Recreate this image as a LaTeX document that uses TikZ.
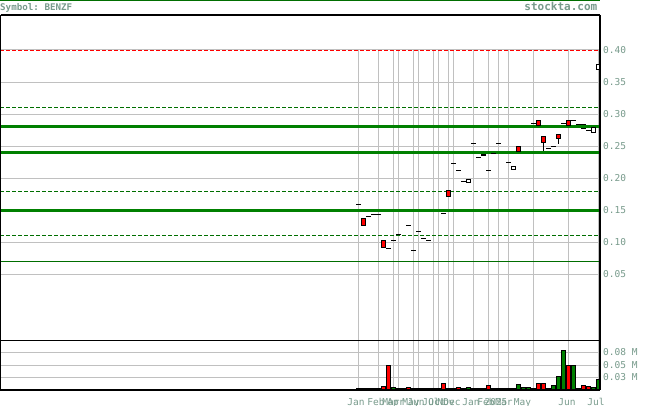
\documentclass[tikz,border=0pt]{standalone}
\usepackage{fontspec}
\setmonofont{DejaVu Sans Mono}
\definecolor{gridgray}{RGB}{192,192,192}
\definecolor{txtgreen}{RGB}{120,155,140}
\definecolor{supgreen}{RGB}{0,128,0}
\definecolor{dkgreen}{RGB}{0,110,0}
\definecolor{candred}{RGB}{255,0,0}
\definecolor{volgreen}{RGB}{0,128,0}
\tikzset{
  gridline/.style={draw=gridgray,line width=1pt},
  supthick/.style={draw=supgreen,line width=3pt},
  supdash/.style={draw=dkgreen,line width=1pt,dash pattern=on 3.5pt off 2.5pt},
  supthin/.style={draw=dkgreen,line width=1pt},
  topdash/.style={draw=candred,line width=1pt,dash pattern=on 4pt off 2pt},
  tick/.style={draw=black,line width=1pt},
  redbody/.style={draw=black,line width=1pt,fill=candred},
  whitebody/.style={draw=black,line width=1pt,fill=white},
  axlabel/.style={text=txtgreen,font=\ttfamily\fontsize{9.5}{10}\selectfont,inner sep=0pt},
  monthlabel/.style={text=txtgreen,font=\ttfamily\fontsize{9.5}{10}\selectfont,inner sep=0pt,anchor=base},
  headlabel/.style={text=txtgreen,inner sep=0pt}
}
\begin{document}
\begin{tikzpicture}[x=1pt,y=-1pt]
\useasboundingbox (0,0) rectangle (655,406);
\fill[white] (0,0) rectangle (655,406);
% top green rule
\draw[draw=dkgreen,line width=1.5pt] (0,0.75) -- (600,0.75);
% horizontal grid
\foreach \yy in {50,82.3,114.3,146.3,178.3,210.3,242.3,274.3,352.3,365,377.3}
  \draw[gridline] (0,\yy) -- (600,\yy);
% vertical grid
\foreach \k in {0,4,7,8,11,12,15,16,18,19,23,26,28,30,35,42,48}
  \draw[gridline] ({358.5+5*\k},50) -- ({358.5+5*\k},390);
% support / resistance lines
\draw[topdash] (0,50.3) -- (600,50.3);
\foreach \yy in {107.3,191.3,235.3}
  \draw[supdash] (0,\yy) -- (600,\yy);
\foreach \yy in {126.3,152.7,210.3}
  \draw[supthick] (0,\yy) -- (600,\yy);
\draw[supthin] (0,261) -- (600,261);
% candles: ticks (open = close)
\foreach \i/\yy in {0/204.3,2/216.3,3/214.3,4/214.3,6/248.3,7/240.3,8/234,10/225,11/250.3,12/231.3,13/238.3,14/240.3,17/213.3,19/164,20/171,21/181,23/144,24/157.3,26/171,27/154,28/144,30/162.3,35/123.3,38/148.3,39/146.3,41/123.3,43/121,44/124.3,45/124.3,45/128.3,46/130.3}
  \draw[tick] ({356+5*\i+0.2},\yy) -- ({356+5*\i+4.8},\yy);
% wicks
\draw[tick] ({356+5*37+2.5},143) -- ({356+5*37+2.5},150.7);
\draw[tick] ({356+5*40+2.5},139) -- ({356+5*40+2.5},144.3);
% red bodies
\foreach \i/\ta/\tb in {1/218/226,5/240/247.7,18/190.3/196.7,25/154/156.5,32/146.3/151.7,36/120/125.7,37/136/143.3,40/134/139.3,42/120/125.7}
  \draw[redbody] ({356+5*\i+0.5},{\ta+0.5}) rectangle ({356+5*\i+4.5},{\tb-0.5});
% white bodies
\foreach \i/\ta/\tb in {22/179.3/182.7,31/166.3/169.7,47/127.3/132.7,48/64.3/70.3}
  \draw[whitebody] ({356+5*\i+0.5},{\ta+0.5}) rectangle ({356+5*\i+4.5},{\tb-0.5});
% volume baseline
\draw[draw=black,line width=1.5pt] (356,389) -- (600,389);
% volume bars
\foreach \i/\tp/\cc in {0/388.3/volgreen,1/388.3/candred,5/386.3/candred,6/365/candred,7/387.3/volgreen,10/387.3/candred,17/383.3/candred,20/387.3/candred,22/387.3/volgreen,26/385.3/candred,29/388.3/candred,31/388.3/candred,32/384.3/volgreen,33/387.3/volgreen,34/387.3/volgreen,36/383.3/candred,37/383.3/candred,39/385.3/volgreen,40/376.3/volgreen,41/350/volgreen,42/365.3/candred,43/365.3/volgreen,44/388.3/candred,45/385.3/candred,46/386.3/candred,47/387.3/volgreen,48/379/volgreen}
  \draw[draw=black,line width=1pt,fill=\cc] ({356+5*\i+0.5},{\tp+0.5}) rectangle ({356+5*\i+4.5},389.5);
% frame
\draw[draw=black,line width=1.2pt] (0.6,15) -- (600,15);
\draw[draw=black,line width=1.2pt] (0.6,15) -- (0.6,390) -- (600,390);
\draw[draw=black,line width=1.2pt] (0.6,340.3) -- (600,340.3);
\draw[draw=black,line width=1.6pt] (600,15) -- (600,390);
% header
\node[headlabel,anchor=base west,font=\ttfamily\bfseries\fontsize{9.2}{10}\selectfont] (sym) at (0,10.3) {Symbol: BENZF};
\node[headlabel,anchor=base east,font=\ttfamily\bfseries\fontsize{11}{12}\selectfont] (site) at (597.5,10.3) {stockta.com};
% price labels
\foreach \yy/\lab [count=\n] in {50.5/0.40,82.5/0.35,114.5/0.30,146.5/0.25,178.5/0.20,210.5/0.15,242.5/0.10,274.5/0.05}
  \node[axlabel,anchor=west] (p\n) at (603,\yy) {\lab};
% volume labels
\foreach \yy/\lab [count=\n] in {352.3/0.08 M,365/0.05 M,377.3/0.03 M}
  \node[axlabel,anchor=west] (v\n) at (603,\yy) {\lab};
% month labels
\foreach \xx/\lab [count=\n] in {356/Jan,376/Feb,391/Mar,396/Apr,411/May,416/Jun,431/Jul,437/Oct,446/Nov,452/Dec,471/Jan,486/Feb,496/2025,504/Mar,522.5/May,567/Jun,596/Jul}
  \node[monthlabel] (m\n) at (\xx,405) {\lab};
\end{tikzpicture}
\end{document}
